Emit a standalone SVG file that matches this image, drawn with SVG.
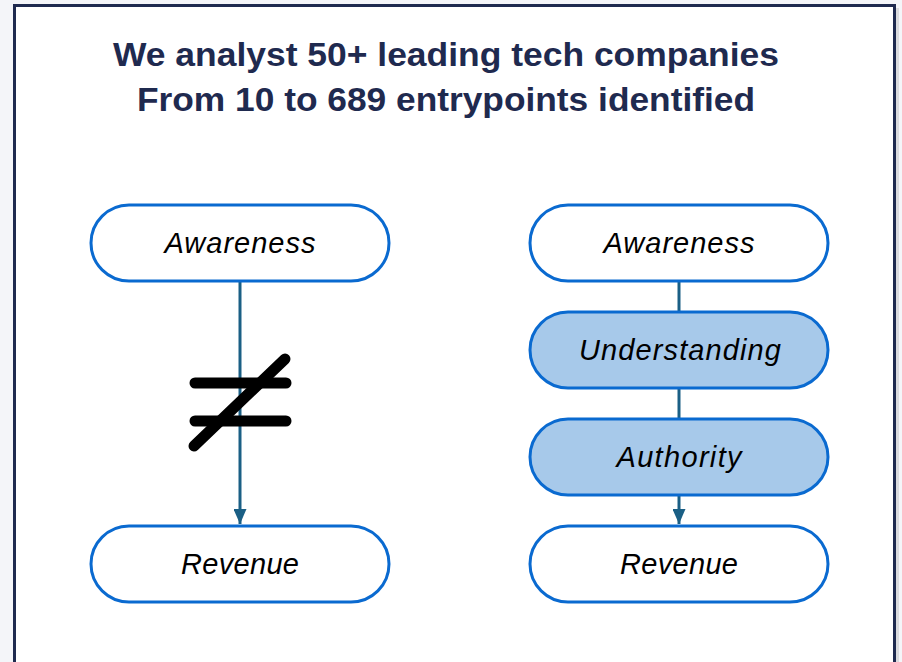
<svg xmlns="http://www.w3.org/2000/svg" width="902" height="662" viewBox="0 0 902 662">
<defs>
<style>
.title{font-family:"Liberation Sans",Arial,sans-serif;font-weight:bold;font-size:33px;fill:#1f2a4f;text-anchor:middle}
.node rect{stroke:#0a6ad0;stroke-width:3}
.w{fill:#ffffff}
.b{fill:#a7c9ea}
.lbl{font-family:"Liberation Sans",Arial,sans-serif;font-style:italic;font-size:29px;fill:#000;text-anchor:middle}
.conn{stroke:#1a5f85;stroke-width:3;fill:none}
.ne{stroke:#000;stroke-width:11;stroke-linecap:round;fill:none}
</style>
<marker id="arr" viewBox="0 0 15 13" refX="15" refY="6.5" markerWidth="15" markerHeight="13" markerUnits="userSpaceOnUse" orient="auto">
<path d="M0,0 L15,6.5 L0,13 Z" fill="#1a5f85"/>
</marker>
</defs>
<rect x="0" y="0" width="902" height="662" fill="#f4f5f9"/>
<rect x="17" y="8" width="882" height="660" fill="#c8c9cc" opacity="0.6"/>
<rect x="14.5" y="5.5" width="880" height="662" fill="#ffffff" stroke="#1f2a4f" stroke-width="3"/>
<g id="title">
<text class="title" x="446" y="66" textLength="666" lengthAdjust="spacingAndGlyphs">We analyst 50+ leading tech companies</text>
<text class="title" x="446" y="111" textLength="618" lengthAdjust="spacingAndGlyphs">From 10 to 689 entrypoints identified</text>
</g>
<g id="connectors">
<line class="conn" x1="240" y1="281" x2="240" y2="524" marker-end="url(#arr)"/>
<line class="conn" x1="679" y1="281" x2="679" y2="311"/>
<line class="conn" x1="679" y1="388" x2="679" y2="418"/>
<line class="conn" x1="679" y1="495" x2="679" y2="524" marker-end="url(#arr)"/>
</g>
<g id="not-equal">
<line class="ne" x1="195" y1="383" x2="286" y2="383"/>
<line class="ne" x1="195" y1="421" x2="286" y2="421"/>
<line class="ne" x1="194" y1="446" x2="285" y2="359"/>
</g>
<g id="left-awareness" class="node"><rect class="w" x="91" y="205" width="298" height="76" rx="38"/><text class="lbl" x="240" y="253" textLength="151">Awareness</text></g>
<g id="left-revenue" class="node"><rect class="w" x="91" y="526" width="298" height="76" rx="38"/><text class="lbl" x="240" y="574" textLength="118">Revenue</text></g>
<g id="right-awareness" class="node"><rect class="w" x="530" y="205" width="298" height="76" rx="38"/><text class="lbl" x="679" y="253" textLength="151">Awareness</text></g>
<g id="right-understanding" class="node"><rect class="b" x="530" y="312" width="298" height="76" rx="38"/><text class="lbl" x="680" y="360" textLength="202">Understanding</text></g>
<g id="right-authority" class="node"><rect class="b" x="530" y="419" width="298" height="76" rx="38"/><text class="lbl" x="679" y="467" textLength="125">Authority</text></g>
<g id="right-revenue" class="node"><rect class="w" x="530" y="526" width="298" height="76" rx="38"/><text class="lbl" x="679" y="574" textLength="118">Revenue</text></g>
</svg>
